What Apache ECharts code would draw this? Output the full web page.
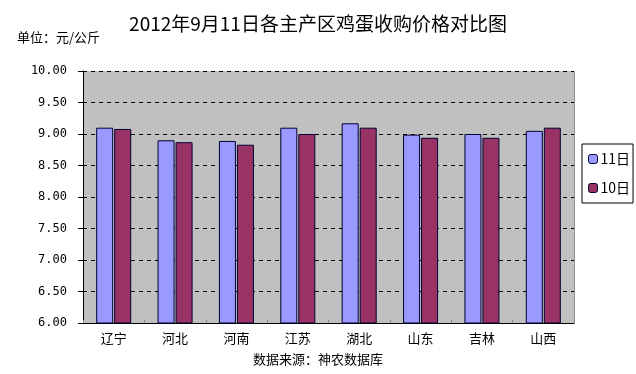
<!DOCTYPE html>
<html><head><meta charset="utf-8">
<script src="https://cdn.jsdelivr.net/npm/echarts@6/dist/echarts.min.js"></script>
<style>html,body{margin:0;padding:0;background:#fff}#c{width:636px;height:374px}</style>
</head><body><div id="c"></div>
<script>
const categories = ['辽宁','河北','河南','江苏','湖北','山东','吉林','山西'];
const s11 = [9.10, 8.90, 8.89, 9.10, 9.17, 8.99, 9.00, 9.05];
const s10 = [9.08, 8.87, 8.83, 9.00, 9.10, 8.94, 8.94, 9.10];
const seriesNames = ['11日','10日'];
const titleText = '2012年9月11日各主产区鸡蛋收购价格对比图';
const unitText = '单位：元/公斤';
const sourceText = '数据来源：神农数据库';

const chart = echarts.init(document.getElementById('c'));
const cjk = '"Noto Sans CJK SC", sans-serif';
chart.setOption({
  animation: false,
  backgroundColor: '#fff',
  graphic: [
    {type:'text', left:'center', top:14, style:{text:titleText, font:'19px "Noto Sans CJK SC"', fill:'#000'}},
    {type:'text', left:17, top:31, style:{text:unitText, font:'13px "Noto Sans CJK SC"', fill:'#000'}},
    {type:'text', left:'center', top:353, style:{text:sourceText, font:'13px "Noto Sans CJK SC"', fill:'#000'}}
  ],
  legend: {
    orient:'vertical', left:582, top:144, data: seriesNames,
    borderColor:'#000', borderWidth:1, padding:[8,3,8,6], itemGap:15,
    itemWidth:9, itemHeight:9, itemStyle:{borderColor:'#000033', borderWidth:1},
    textStyle:{fontSize:14, fontFamily:cjk, color:'#000', padding:[0,0,0,-2]}
  },
  grid: {left:83, right:62, top:71, bottom:51, show:true, backgroundColor:'#C0C0C0', borderWidth:0},
  xAxis: {
    type:'category', data:categories,
    axisLine:{lineStyle:{color:'#000', width:1}},
    axisTick:{show:true, inside:true, length:3, lineStyle:{color:'#888'}},
    axisLabel:{fontSize:13, fontFamily:cjk, color:'#000', margin:9}
  },
  yAxis: [{
    type:'value', min:6, max:10, interval:0.5,
    axisLine:{show:true, lineStyle:{color:'#000'}},
    axisTick:{show:true, length:5, lineStyle:{color:'#000'}},
    axisLabel:{formatter: v => v.toFixed(2), fontFamily:'"DejaVu Sans Mono", monospace', fontSize:12, color:'#000', margin:16},
    splitLine:{show:true, lineStyle:{color:'#000', type:[4,4], width:1}}
  },{
    type:'value', min:6, max:10, interval:0.5, position:'right',
    axisLine:{show:true, lineStyle:{color:'#777', type:'dotted'}},
    axisTick:{show:false}, axisLabel:{show:false}, splitLine:{show:false}
  }],
  series: [
    {name:seriesNames[0], type:'bar', data:s11, barWidth:17, barGap:'6%',
     itemStyle:{color:'#9999FF', borderColor:'#000033', borderWidth:1}},
    {name:seriesNames[1], type:'bar', data:s10, barWidth:17, barGap:'6%',
     itemStyle:{color:'#993366', borderColor:'#000033', borderWidth:1}}
  ]
});
</script></body></html>
